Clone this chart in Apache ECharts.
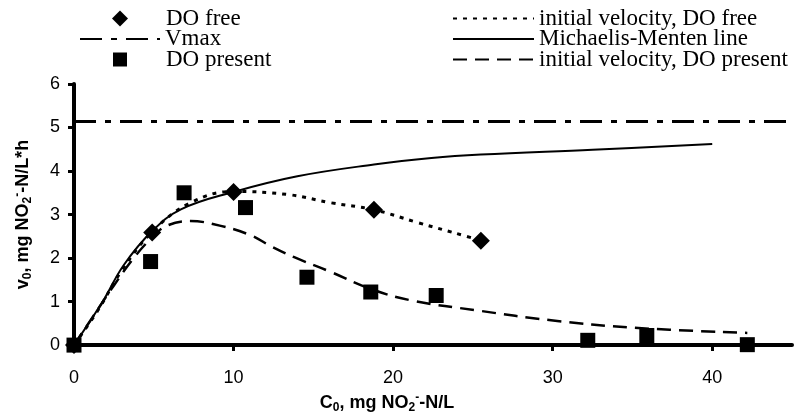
<!DOCTYPE html>
<html>
<head>
<meta charset="utf-8">
<script src="https://cdn.jsdelivr.net/npm/echarts@6/dist/echarts.min.js"></script>
<style>
  html, body { margin: 0; padding: 0; background: #fff; }
  #chart { width: 803px; height: 419px; }
</style>
</head>
<body>
<div id="chart"></div>
<script>
// measured points [C0, v0]
const doFree = [[0, 0], [4.9, 2.59], [10, 3.52], [18.8, 3.11], [25.5, 2.40]]
const doPresent = [[0, 0], [4.8, 1.92], [6.9, 3.5], [10.75, 3.16], [14.6, 1.56], [18.6, 1.22],
    [22.7, 1.14], [32.2, 0.11], [35.9, 0.22], [42.2, 0.01]]

// fitted curves
const velFree = [[0, 0], [1.5, 0.8], [3, 1.72], [4.9, 2.6], [7.3, 3.27], [10, 3.53], [13.4, 3.46],
    [16.1, 3.27], [18.8, 3.11], [21.5, 2.82], [24.5, 2.51], [25.5, 2.4]]
const mmLine = [[0, 0], [1.8, 1.0], [3.1, 1.83], [4.9, 2.62], [6.7, 3.12], [10, 3.52], [14, 3.88],
    [18.8, 4.15], [22.4, 4.3], [25.5, 4.38], [32.5, 4.49], [40, 4.62]]
const velPresent = [[0, 0], [1.2, 0.66], [2.5, 1.37], [3.7, 1.98], [4.8, 2.44], [5.8, 2.74], [7.3, 2.85],
    [9.2, 2.74], [11.1, 2.52], [12.3, 2.28], [13.8, 2.02], [16.1, 1.68], [18.6, 1.29], [21.1, 1.03],
    [25.4, 0.79], [29.9, 0.57], [35, 0.4], [42.2, 0.28]]
const vmax = 5.14
const vmaxLine = [[0, vmax], [45, vmax]]

const xTicks = [0, 10, 20, 30, 40]
const yTicks = [0, 1, 2, 3, 4, 5, 6]

const chart = echarts.init(document.getElementById('chart'))

// one legend per row so each icon can sit where Excel put it
const rowTop = [7, 27.5, 48]
const legendRow = (name, left, row, w, h, padLeft, lineOnly) => ({
    orient: 'vertical',
    left: left,
    top: rowTop[row],
    padding: 0,
    itemWidth: w,
    itemHeight: h,
    textStyle: {
        fontFamily: 'Liberation Serif',
        fontSize: 23,
        color: '#000',
        padding: [0, 0, 0, padLeft]
    },
    // line entries: hide the marker the legend adds by default
    data: [lineOnly ? { name, itemStyle: { opacity: 0 } } : name]
})

const nameRich = {
    sub: { fontSize: 12, fontWeight: 'bold', fontFamily: 'Liberation Sans', padding: [10, 0, 0, 0] },
    sup: { fontSize: 12, fontWeight: 'bold', fontFamily: 'Liberation Sans', padding: [0, 0, 10, 0] }
}

const option = {
    backgroundColor: '#fff',
    animation: false,
    legend: [
        legendRow('DO free', 112, 0, 16, 16, 33, false),
        legendRow('Vmax', 79, 1, 80, 16, 0, true),
        legendRow('DO present', 113, 2, 14, 14, 34, false),
        legendRow('initial velocity, DO free', 452, 0, 81, 16, 0, true),
        legendRow('Michaelis-Menten line', 452, 1, 81, 16, 0, true),
        legendRow('initial velocity, DO present', 452, 2, 81, 16, 0, true)
    ],
    grid: {
        left: 74,
        right: 11,
        top: 84,
        bottom: 72
    },
    xAxis: {
        type: 'value',
        min: 0,
        max: 45,
        interval: 10,
        splitLine: { show: false },
        axisLine: { lineStyle: { color: '#000', width: 4 } },
        axisTick: { length: 6, lineStyle: { color: '#000', width: 3 }, customValues: xTicks },
        axisLabel: {
            customValues: xTicks,
            margin: 24,
            fontFamily: 'Liberation Sans',
            fontSize: 18,
            color: '#000'
        },
        name: 'C{sub|0}, mg NO{sub|2}{sup|-}-N/L',
        nameLocation: 'middle',
        nameGap: 46,
        nameTextStyle: {
            fontFamily: 'Liberation Sans',
            fontSize: 18,
            fontWeight: 'bold',
            color: '#000',
            padding: [0, 92, 0, 0],
            rich: nameRich
        }
    },
    yAxis: {
        type: 'value',
        min: 0,
        max: 6,
        interval: 1,
        splitLine: { show: false },
        axisLine: { lineStyle: { color: '#000', width: 4 } },
        axisTick: { length: 6, lineStyle: { color: '#000', width: 3 }, customValues: yTicks },
        axisLabel: {
            customValues: yTicks,
            margin: 14,
            fontFamily: 'Liberation Sans',
            fontSize: 18,
            color: '#000'
        },
        name: 'v{sub|0}, mg NO{sub|2}{sup|-}-N/L*h',
        nameLocation: 'middle',
        nameRotate: 90,
        nameGap: 40,
        nameTextStyle: {
            fontFamily: 'Liberation Sans',
            fontSize: 18,
            fontWeight: 'bold',
            color: '#000',
            rich: nameRich
        }
    },
    series: [
        {
            name: 'Vmax',
            type: 'line',
            data: vmaxLine,
            symbol: 'none',
            lineStyle: { color: '#000', width: 3, type: [22, 9, 6, 9] },
            itemStyle: { color: '#000' },
            z: 1
        },
        {
            name: 'Michaelis-Menten line',
            type: 'line',
            data: mmLine,
            smooth: 0.4,
            symbol: 'none',
            lineStyle: { color: '#000', width: 2 },
            itemStyle: { color: '#000' },
            z: 2
        },
        {
            name: 'initial velocity, DO free',
            type: 'line',
            data: velFree,
            smooth: 0.4,
            symbol: 'none',
            lineStyle: { color: '#000', width: 3, type: [4, 6] },
            itemStyle: { color: '#000' },
            z: 2
        },
        {
            name: 'initial velocity, DO present',
            type: 'line',
            data: velPresent,
            smooth: 0.4,
            symbol: 'none',
            lineStyle: { color: '#000', width: 2.5, type: [14, 8] },
            itemStyle: { color: '#000' },
            z: 2
        },
        {
            name: 'DO free',
            type: 'scatter',
            data: doFree,
            symbol: 'diamond',
            symbolSize: 18,
            itemStyle: { color: '#000', opacity: 1 },
            z: 5
        },
        {
            name: 'DO present',
            type: 'scatter',
            data: doPresent,
            symbol: 'rect',
            symbolSize: 15,
            itemStyle: { color: '#000', opacity: 1 },
            z: 5
        }
    ]
}

option && chart.setOption(option)
</script>
</body>
</html>
